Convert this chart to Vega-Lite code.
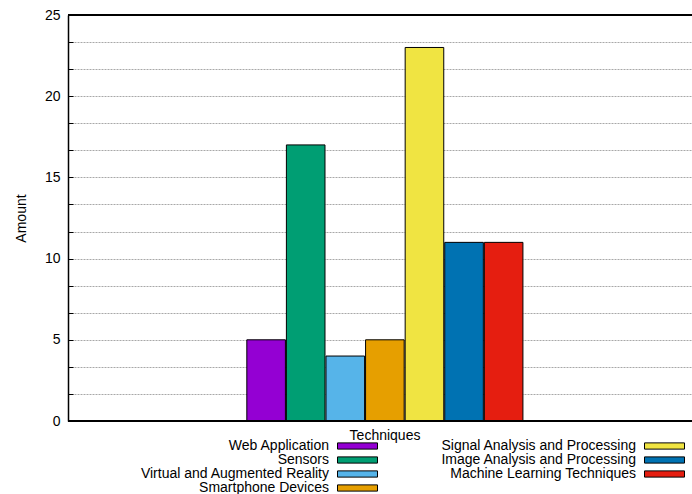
{
  "$schema": "https://vega.github.io/schema/vega-lite/v6.json",
  "width": 624,
  "height": 406,
  "autosize": {"type": "none"},
  "padding": {"left": 68, "top": 15, "right": 0, "bottom": 73},
  "background": "white",
  "config": {
    "font": "Liberation Sans",
    "view": {"stroke": null},
    "axis": {"labelFont": "Liberation Sans", "titleFont": "Liberation Sans", "labelColor": "#000", "titleColor": "#000", "titleFontWeight": "normal", "labelFontSize": 14, "titleFontSize": 14}
  },
  "data": {
    "values": [
      {"technique": "Web Application", "amount": 5},
      {"technique": "Sensors", "amount": 17},
      {"technique": "Virtual and Augmented Reality", "amount": 4},
      {"technique": "Smartphone Devices", "amount": 5},
      {"technique": "Signal Analysis and Processing", "amount": 23},
      {"technique": "Image Analysis and Processing", "amount": 11},
      {"technique": "Machine Learning Techniques", "amount": 11}
    ]
  },
  "layer": [
    {
      "mark": {"type": "bar", "stroke": "#000", "strokeWidth": 1, "opacity": 1},
      "encoding": {
        "x": {
          "datum": "Techniques",
          "type": "nominal",
          "scale": {"paddingInner": 0, "paddingOuter": 0.63, "align": 0.514},
          "axis": {
            "title": "Techniques",
            "labels": false,
            "ticks": false,
            "grid": false,
            "domain": false,
            "titlePadding": 7,
            "titleX": 316.5
          }
        },
        "xOffset": {
          "field": "technique",
          "type": "nominal",
          "sort": null,
          "scale": {
            "domain": ["Web Application", "Sensors", "Virtual and Augmented Reality", "Smartphone Devices", "Signal Analysis and Processing", "Image Analysis and Processing", "Machine Learning Techniques"],
            "paddingInner": 0.025,
            "paddingOuter": 0
          }
        },
        "y": {
          "field": "amount",
          "type": "quantitative",
          "scale": {"domain": [0, 25], "nice": false, "zero": true},
          "axis": {
            "title": "Amount",
            "values": [0, 1.6667, 3.3333, 5, 6.6667, 8.3333, 10, 11.6667, 13.3333, 15, 16.6667, 18.3333, 20, 21.6667, 23.3333, 25],
            "tickCount": 40,
            "labelExpr": "datum.value % 5 === 0 ? datum.value : ''",
            "labelOverlap": false,
            "grid": true,
            "gridColor": "#a8a8a8",
            "gridDash": [2, 1],
            "gridWidth": 1,
            "domainColor": "#000",
            "domainWidth": 1.5,
            "tickColor": "#000",
            "tickSize": -5,
            "tickWidth": 1,
            "labelPadding": 13,
            "titlePadding": 16
          }
        },
        "color": {
          "field": "technique",
          "type": "nominal",
          "scale": {
            "domain": ["Web Application", "Sensors", "Virtual and Augmented Reality", "Smartphone Devices", "Signal Analysis and Processing", "Image Analysis and Processing", "Machine Learning Techniques"],
            "range": ["#9400d3", "#009e73", "#56b4e9", "#e69f00", "#f0e442", "#0072b2", "#e51e10"]
          },
          "legend": {
            "title": null,
            "orient": "none",
            "legendX": 269,
            "legendY": 424,
            "columns": 2,
            "padding": 0,
            "columnPadding": 60,
            "rowPadding": 0,
            "symbolType": "M-3.077,-0.48H3.077V0.48H-3.077Z",
            "symbolSize": 169,
            "symbolOffset": 13.5,
            "symbolStrokeColor": "#000",
            "symbolStrokeWidth": 1,
            "symbolOpacity": 1,
            "labelAlign": "right",
            "labelOffset": -35.5,
            "labelFont": "Liberation Sans",
            "labelFontSize": 14,
            "labelColor": "#000",
            "labelLimit": 400
          }
        }
      }
    },
    {
      "mark": {"type": "rule", "color": "#000", "strokeWidth": 1.5},
      "encoding": {"y": {"datum": 25}}
    },
    {
      "mark": {"type": "rule", "color": "#000", "strokeWidth": 1.5},
      "encoding": {"y": {"datum": 0}}
    }
  ]
}
